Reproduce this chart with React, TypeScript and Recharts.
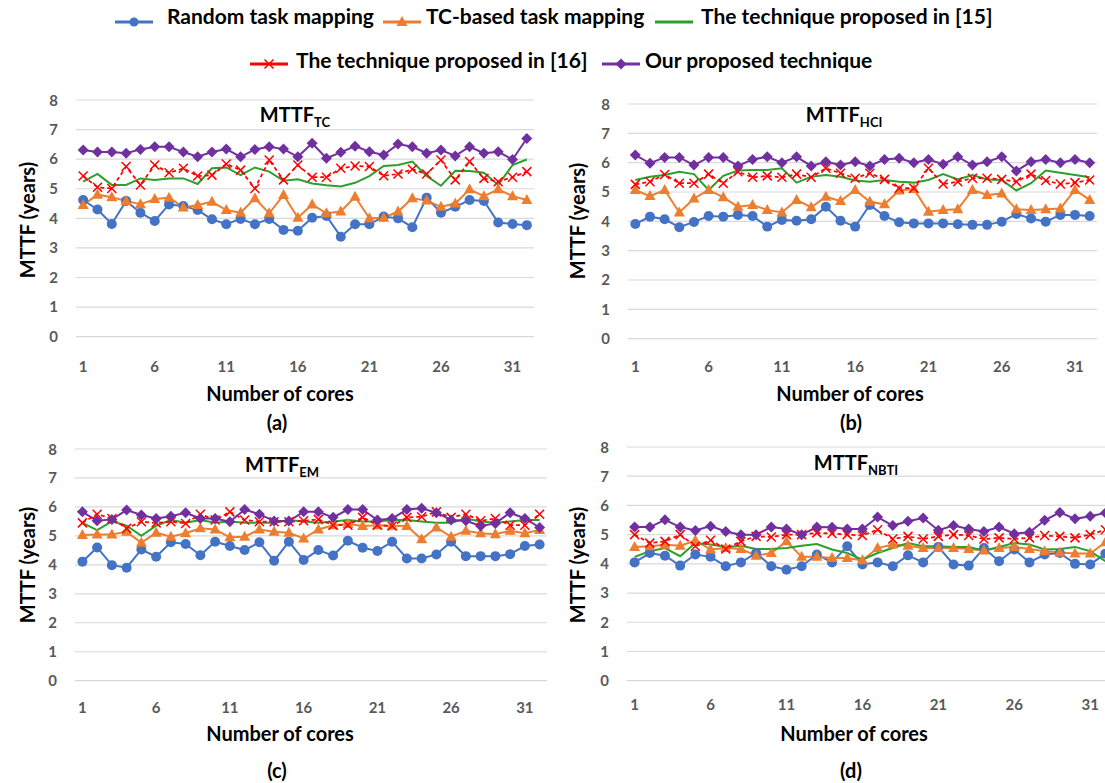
import React from "react";
import { CartesianGrid, Line, LineChart, XAxis, YAxis } from "recharts";

const cores = [1, 2, 3, 4, 5, 6, 7, 8, 9, 10, 11, 12, 13, 14, 15, 16, 17, 18, 19, 20, 21, 22, 23, 24, 25, 26, 27, 28, 29, 30, 31, 32];
const yTicks = [0, 1, 2, 3, 4, 5, 6, 7, 8];

// (a) MTTF_TC
const randA = [4.62, 4.3, 3.81, 4.59, 4.19, 3.91, 4.47, 4.42, 4.28, 3.97, 3.8, 3.98, 3.8, 3.98, 3.61, 3.58, 4.02, 4.08, 3.38, 3.8, 3.8, 4.06, 4.0, 3.7, 4.7, 4.19, 4.39, 4.62, 4.59, 3.86, 3.81, 3.77];
const tcA = [4.45, 4.8, 4.71, 4.59, 4.48, 4.65, 4.7, 4.37, 4.45, 4.56, 4.28, 4.19, 4.68, 4.17, 4.79, 4.02, 4.47, 4.17, 4.23, 4.73, 4.0, 4.02, 4.23, 4.68, 4.6, 4.39, 4.5, 4.98, 4.75, 4.98, 4.75, 4.62];
const t15A = [5.24, 5.5, 5.13, 5.13, 5.35, 5.3, 5.35, 5.35, 5.16, 5.69, 5.72, 5.46, 5.72, 5.58, 5.27, 5.32, 5.18, 5.12, 5.08, 5.2, 5.43, 5.77, 5.8, 5.92, 5.43, 5.1, 5.61, 5.6, 5.54, 5.13, 5.8, 5.99];
const t16A = [5.43, 5.05, 5.01, 5.75, 5.13, 5.8, 5.54, 5.69, 5.43, 5.46, 5.84, 5.63, 5.01, 5.97, 5.3, 5.8, 5.39, 5.39, 5.69, 5.77, 5.75, 5.44, 5.5, 5.66, 5.5, 5.97, 5.3, 5.92, 5.35, 5.24, 5.39, 5.58];
const oursA = [6.31, 6.24, 6.24, 6.2, 6.33, 6.42, 6.42, 6.24, 6.08, 6.24, 6.34, 6.08, 6.33, 6.42, 6.34, 6.08, 6.54, 6.03, 6.23, 6.44, 6.25, 6.14, 6.51, 6.42, 6.2, 6.31, 6.11, 6.42, 6.2, 6.25, 5.99, 6.7];

// (b) MTTF_HCI
const randB = [3.91, 4.16, 4.07, 3.8, 3.98, 4.18, 4.16, 4.22, 4.18, 3.82, 4.05, 4.02, 4.07, 4.5, 4.02, 3.82, 4.56, 4.18, 3.97, 3.93, 3.93, 3.93, 3.9, 3.88, 3.88, 3.99, 4.25, 4.1, 3.99, 4.22, 4.22, 4.18];
const tcB = [5.07, 4.86, 5.07, 4.3, 4.78, 5.07, 4.82, 4.5, 4.56, 4.39, 4.3, 4.73, 4.48, 4.84, 4.69, 5.07, 4.67, 4.58, 5.05, 5.1, 4.33, 4.39, 4.41, 5.07, 4.9, 4.95, 4.41, 4.39, 4.41, 4.44, 5.07, 4.73];
const t15B = [5.41, 5.52, 5.58, 5.69, 5.61, 5.07, 5.55, 5.73, 5.75, 5.75, 5.81, 5.32, 5.52, 5.58, 5.52, 5.39, 5.35, 5.41, 5.35, 5.32, 5.41, 5.61, 5.43, 5.58, 5.43, 5.41, 5.05, 5.3, 5.73, 5.66, 5.58, 5.5];
const t16B = [5.26, 5.35, 5.6, 5.3, 5.3, 5.61, 5.3, 5.69, 5.5, 5.55, 5.5, 5.61, 5.5, 5.81, 5.64, 5.47, 5.64, 5.43, 5.13, 5.13, 5.81, 5.27, 5.35, 5.47, 5.47, 5.43, 5.35, 5.61, 5.39, 5.27, 5.32, 5.41];
const oursB = [6.26, 5.98, 6.18, 6.18, 5.92, 6.18, 6.18, 5.89, 6.11, 6.2, 6.0, 6.2, 5.89, 6.03, 5.92, 6.03, 5.89, 6.11, 6.15, 6.0, 6.11, 5.95, 6.2, 5.92, 6.03, 6.2, 5.72, 6.03, 6.11, 6.0, 6.11, 6.0];

// (c) MTTF_EM
const randC = [4.11, 4.6, 3.99, 3.9, 4.53, 4.28, 4.78, 4.72, 4.33, 4.8, 4.65, 4.51, 4.78, 4.14, 4.8, 4.17, 4.51, 4.32, 4.83, 4.59, 4.48, 4.8, 4.22, 4.22, 4.36, 4.8, 4.3, 4.3, 4.3, 4.37, 4.65, 4.7];
const tcC = [5.03, 5.05, 5.05, 5.14, 4.76, 5.11, 4.97, 5.09, 5.26, 5.22, 4.95, 4.97, 5.22, 5.14, 5.11, 4.91, 5.22, 5.37, 5.41, 5.34, 5.37, 5.35, 5.34, 4.88, 5.29, 4.97, 5.18, 5.09, 5.06, 5.18, 5.09, 5.2];
const t15C = [5.45, 5.2, 5.5, 5.35, 5.0, 5.35, 5.55, 5.45, 5.55, 5.45, 5.5, 5.45, 5.45, 5.45, 5.55, 5.5, 5.45, 5.5, 5.55, 5.5, 5.5, 5.55, 5.55, 5.5, 5.45, 5.45, 5.6, 5.5, 5.45, 5.5, 5.55, 5.55];
const t16C = [5.45, 5.75, 5.6, 5.26, 5.49, 5.45, 5.49, 5.43, 5.75, 5.55, 5.83, 5.55, 5.49, 5.49, 5.49, 5.52, 5.57, 5.37, 5.37, 5.64, 5.37, 5.34, 5.64, 5.66, 5.83, 5.64, 5.75, 5.52, 5.6, 5.37, 5.37, 5.75];
const oursC = [5.83, 5.52, 5.57, 5.89, 5.72, 5.6, 5.68, 5.8, 5.6, 5.6, 5.49, 5.91, 5.75, 5.51, 5.51, 5.83, 5.83, 5.64, 5.91, 5.91, 5.55, 5.6, 5.91, 5.95, 5.8, 5.55, 5.52, 5.34, 5.43, 5.8, 5.6, 5.29];

// (d) MTTF_NBTI
const randD = [4.05, 4.37, 4.28, 3.94, 4.32, 4.24, 3.92, 4.05, 4.37, 3.92, 3.8, 3.92, 4.32, 4.05, 4.6, 3.98, 4.05, 3.92, 4.29, 4.05, 4.58, 3.98, 3.94, 4.54, 4.09, 4.49, 4.05, 4.32, 4.37, 4.0, 3.98, 4.35];
const tcD = [4.58, 4.6, 4.65, 4.62, 4.8, 4.49, 4.54, 4.51, 4.28, 4.37, 4.77, 4.24, 4.24, 4.2, 4.2, 4.12, 4.54, 4.66, 4.62, 4.54, 4.54, 4.54, 4.51, 4.46, 4.54, 4.58, 4.51, 4.43, 4.39, 4.35, 4.35, 4.74];
const t15D = [4.24, 4.43, 4.54, 4.26, 4.71, 4.66, 4.58, 4.62, 4.51, 4.51, 4.54, 4.62, 4.68, 4.49, 4.37, 4.14, 4.37, 4.54, 4.71, 4.6, 4.6, 4.58, 4.58, 4.46, 4.58, 4.71, 4.66, 4.49, 4.51, 4.58, 4.43, 4.09];
const t16D = [5.0, 4.71, 4.77, 5.0, 4.6, 4.81, 4.51, 4.77, 4.94, 4.92, 5.0, 5.0, 5.06, 5.04, 5.0, 4.97, 5.17, 4.85, 4.94, 4.85, 4.94, 5.0, 4.97, 4.85, 4.89, 4.85, 4.89, 4.97, 4.94, 4.89, 5.0, 5.17];
const oursD = [5.26, 5.26, 5.51, 5.26, 5.14, 5.29, 5.11, 5.0, 5.0, 5.26, 5.19, 5.0, 5.26, 5.25, 5.19, 5.19, 5.6, 5.31, 5.46, 5.57, 5.15, 5.31, 5.19, 5.11, 5.26, 5.03, 5.08, 5.49, 5.76, 5.54, 5.63, 5.74];

const seriesNames = ["Random task mapping", "TC-based task mapping", "The technique proposed in [15]", "The technique proposed in [16]", "Our proposed technique"];

const BLUE = "#4472C4";
const ORANGE = "#ED7D31";
const GREEN = "#2CA02C";
const RED = "#FF0000";
const PURPLE = "#7030A0";
const GRID = "#D9D9D9";
const TICK = "#595959";
const FONT = "Lato, 'Open Sans', sans-serif";

const dotCircle = (p: any) => <circle key={p.index} cx={p.cx} cy={p.cy} r={5} fill={BLUE} />;
const dotTri = (p: any) => (
  <path key={p.index} d={`M${p.cx},${p.cy - 6}L${p.cx + 5.5},${p.cy + 4}L${p.cx - 5.5},${p.cy + 4}Z`} fill={ORANGE} />
);
const dotX = (p: any) => (
  <path key={p.index} d={`M${p.cx - 4.5},${p.cy - 4.5}L${p.cx + 4.5},${p.cy + 4.5}M${p.cx + 4.5},${p.cy - 4.5}L${p.cx - 4.5},${p.cy + 4.5}`} stroke={RED} strokeWidth={1.5} fill="none" />
);
const dotDiamond = (p: any) => (
  <path key={p.index} d={`M${p.cx},${p.cy - 5.5}L${p.cx + 5.5},${p.cy}L${p.cx},${p.cy + 5.5}L${p.cx - 5.5},${p.cy}Z`} fill={PURPLE} />
);

function Txt({ x, y, size, color = "#000", rotate = 0, children }: any) {
  return (
    <div
      style={{
        position: "absolute",
        left: x,
        top: y,
        transform: `translate(-50%, -50%) rotate(${rotate}deg)`,
        whiteSpace: "nowrap",
        fontFamily: FONT,
        fontWeight: 700,
        fontSize: size,
        color,
        lineHeight: 1,
      }}
    >
      {children}
    </div>
  );
}

function Panel({ g, rand, tc, t15, t16, ours }: any) {
  const yw = 60;
  const mt = 8;
  const mr = 4;
  const xh = 40;
  const data = cores.map((c, i) => ({ core: c, rand: rand[i], tc: tc[i], t15: t15[i], t16: t16[i], ours: ours[i] }));
  const pad = g.w / 64;
  return (
    <div style={{ position: "absolute", left: g.left - yw, top: g.top - mt }}>
      <LineChart width={yw + g.w + mr} height={mt + g.h + xh} data={data} margin={{ top: mt, right: mr, bottom: 0, left: 0 }}>
        <CartesianGrid vertical={false} stroke={GRID} strokeWidth={1.2} />
        <XAxis
          dataKey="core"
          interval={4}
          padding={{ left: pad, right: pad }}
          axisLine={false}
          tickLine={false}
          height={xh}
          tickMargin={g.xGap}
          tick={{ fill: TICK, fontSize: 15, fontWeight: 700, fontFamily: FONT }}
        />
        <YAxis
          domain={[0, 8]}
          ticks={yTicks}
          width={yw}
          axisLine={false}
          tickLine={false}
          tickSize={0}
          tickMargin={18}
          tick={{ fill: TICK, fontSize: 15, fontWeight: 700, fontFamily: FONT }}
        />
        <Line dataKey="rand" stroke={BLUE} strokeWidth={2} dot={dotCircle} activeDot={false} isAnimationActive={false} />
        <Line dataKey="tc" stroke={ORANGE} strokeWidth={2} dot={dotTri} activeDot={false} isAnimationActive={false} />
        <Line dataKey="t15" stroke={GREEN} strokeWidth={2} dot={false} activeDot={false} isAnimationActive={false} />
        <Line dataKey="t16" stroke={RED} strokeWidth={1.75} strokeDasharray="4 3" dot={dotX} activeDot={false} isAnimationActive={false} />
        <Line dataKey="ours" stroke={PURPLE} strokeWidth={2} dot={dotDiamond} activeDot={false} isAnimationActive={false} />
      </LineChart>
      <Txt x={g.titleX - g.left + yw} y={g.titleY - g.top + mt} size={20}>
        MTTF<sub style={{ fontSize: 13 }}>{g.sub}</sub>
      </Txt>
    </div>
  );
}

const panels = [
  { left: 75.5, top: 100, w: 458, h: 236.7, xGap: 19, sub: "TC", titleX: 295, titleY: 116, ylab: [27, 220], nx: [280, 393], tag: [277, 422], name: "(a)" },
  { left: 628.4, top: 104, w: 469, h: 234.7, xGap: 17, sub: "HCI", titleX: 844, titleY: 116, ylab: [577, 221], nx: [850, 393], tag: [851, 422], name: "(b)" },
  { left: 75.3, top: 449, w: 472, h: 231.7, xGap: 16, sub: "EM", titleX: 282, titleY: 466, ylab: [27, 565], nx: [280, 733], tag: [277, 770], name: "(c)" },
  { left: 626.7, top: 447.3, w: 486, h: 233.7, xGap: 13, sub: "NBTI", titleX: 856, titleY: 464, ylab: [577, 565], nx: [854, 733], tag: [851, 770], name: "(d)" },
];

const panelData = [
  [randA, tcA, t15A, t16A, oursA],
  [randB, tcB, t15B, t16B, oursB],
  [randC, tcC, t15C, t16C, oursC],
  [randD, tcD, t15D, t16D, oursD],
];

function LegendMark({ kind }: { kind: number }) {
  const colors = [BLUE, ORANGE, GREEN, RED, PURPLE];
  const c = colors[kind];
  const cx = 19;
  const cy = 7;
  let m: any = null;
  if (kind === 0) m = <circle cx={cx} cy={cy} r={4.5} fill={c} />;
  if (kind === 1) m = <path d={`M${cx},${cy - 6}L${cx + 5.5},${cy + 4}L${cx - 5.5},${cy + 4}Z`} fill={c} />;
  if (kind === 3) m = <path d={`M${cx - 4.5},${cy - 4.5}L${cx + 4.5},${cy + 4.5}M${cx + 4.5},${cy - 4.5}L${cx - 4.5},${cy + 4.5}`} stroke={c} strokeWidth={1.5} />;
  if (kind === 4) m = <path d={`M${cx},${cy - 5.5}L${cx + 5.5},${cy}L${cx},${cy + 5.5}L${cx - 5.5},${cy}Z`} fill={c} />;
  return (
    <svg width={38} height={14} style={{ display: "block" }}>
      <line x1={0} y1={cy} x2={38} y2={cy} stroke={c} strokeWidth={3} />
      {m}
    </svg>
  );
}

const legendPos = [
  { mx: 115, tx: 167, y: 14.5, my: 22 },
  { mx: 383, tx: 426, y: 14.5, my: 22 },
  { mx: 655, tx: 701, y: 14.5, my: 22 },
  { mx: 250, tx: 296, y: 58.5, my: 64 },
  { mx: 602, tx: 645, y: 58.5, my: 64 },
];

export default function App() {
  return (
    <div style={{ position: "absolute", left: 0, top: 0, width: 1105, height: 783, overflow: "hidden", background: "#fff" }}>
      {legendPos.map((p, i) => (
        <React.Fragment key={i}>
          <div style={{ position: "absolute", left: p.mx, top: p.my - 7 }}>
            <LegendMark kind={i} />
          </div>
          <div
            style={{
              position: "absolute",
              left: p.tx,
              top: p.y,
              transform: "translateY(-50%)",
              whiteSpace: "nowrap",
              fontFamily: FONT,
              fontWeight: 700,
              fontSize: 21,
              lineHeight: 1,
            }}
          >
            {seriesNames[i]}
          </div>
        </React.Fragment>
      ))}
      {panels.map((g, i) => (
        <React.Fragment key={i}>
          <Panel g={g} rand={panelData[i][0]} tc={panelData[i][1]} t15={panelData[i][2]} t16={panelData[i][3]} ours={panelData[i][4]} />
          <Txt x={g.ylab[0]} y={g.ylab[1]} size={20} rotate={-90}>
            MTTF (years)
          </Txt>
          <Txt x={g.nx[0]} y={g.nx[1]} size={20}>
            Number of cores
          </Txt>
          <Txt x={g.tag[0]} y={g.tag[1]} size={20}>
            {g.name}
          </Txt>
        </React.Fragment>
      ))}
    </div>
  );
}
